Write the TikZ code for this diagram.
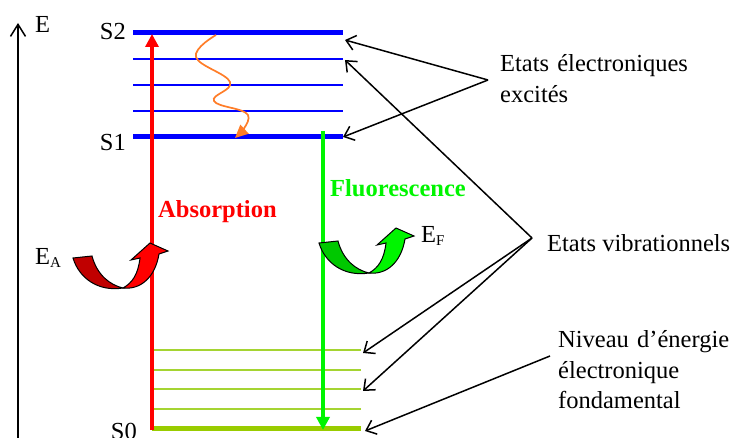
\documentclass[tikz,border=0pt]{standalone}
\usepackage{fontspec}
\setmainfont{Liberation Serif}
\usetikzlibrary{calc,arrows.meta}

\definecolor{levblue}{RGB}{0,0,255}
\definecolor{absred}{RGB}{255,0,0}
\definecolor{backred}{RGB}{192,0,0}
\definecolor{flugreen}{RGB}{0,245,0}
\definecolor{backgreen}{RGB}{0,200,0}
\definecolor{gndgreen}{RGB}{153,204,0}
\definecolor{vibgreen}{RGB}{165,212,50}
\definecolor{waveorange}{RGB}{255,125,40}

\tikzset{
  lab/.style={font=\fontsize{24.5}{30.5}\selectfont,inner sep=0pt},
  pointer/.style={line width=1.5pt,-{Straight Barb[length=9pt,width=15pt]}},
  pics/bentarrow/.style 2 args={code={
    \filldraw[#1,draw=black,line width=1pt] (0,0) .. controls (6,20) and (25,34) .. (50,30)
      .. controls (37,27) and (24,17) .. (19,-2) -- cycle;
    \filldraw[#2,draw=black,line width=1pt] (50,30) .. controls (67,32) and (82,20) .. (86,-4)
      -- (95,-7) -- (77,-15) -- (58,2) -- (67,0) .. controls (65,17) and (59,25) .. (50,30) -- cycle;
  }}
}

\begin{document}
\begin{tikzpicture}[x=1pt,y=-1pt]
  \useasboundingbox (0,0) rectangle (737,438);
  % energy axis
  \coordinate (axb) at (18,445);
  \coordinate (axt) at (18,23);
  \draw[line width=1.5pt,-{Straight Barb[length=12pt,width=15pt]}] (axb)--(axt);
  \node[lab,anchor=base west] (E) at (35,33) {E};
  % excited levels
  \draw[levblue,line width=5pt] (133,33)--(343,33);
  \foreach \y in {59,85,111}
    \draw[levblue,line width=2pt] (133,\y)--(343,\y);
  \draw[levblue,line width=5pt] (133,137)--(343,137);
  \node[lab,anchor=base east] (S2) at (126,40) {S2};
  \node[lab,anchor=base east] (S1) at (126,151) {S1};
  % ground level
  \foreach \y in {350,370,389,409}
    \draw[vibgreen,line width=2pt] (152,\y)--(361,\y);
  \draw[gndgreen,line width=5pt] (152,429)--(361,429);
  \node[lab,anchor=base east] (S0) at (137,440) {S0};
  % transitions
  \coordinate (abot) at (152,430);
  \coordinate (atop) at (152,34);
  \draw[absred,line width=4pt,-{Triangle[length=13pt,width=13pt]}] (abot)--(atop);
  \coordinate (ftop) at (323,131);
  \coordinate (fbot) at (323,430);
  \draw[flugreen,line width=3.5pt,-{Triangle[length=13pt,width=13pt]}] (ftop)--(fbot);
  \draw[waveorange,line width=1.7pt,-{Triangle[length=13pt,width=12pt]}]
    plot[smooth,tension=0.7] coordinates {(216,35) (196,57) (230,82) (214,101) (248,115) (235,138)};
  \node[lab,anchor=base west,font=\fontsize{24.5}{30}\selectfont\bfseries,text=absred] (abs) at (158,218) {Absorption};
  \node[lab,anchor=base west,font=\fontsize{24.5}{30}\selectfont\bfseries,text=flugreen] (flu) at (330,197) {Fluorescence};
  % energy arrows
  \pic at (73,258) {bentarrow={backred}{absred}};
  \pic at (319,243) {bentarrow={backgreen}{flugreen}};
  \node[lab,anchor=base west] (EA) at (35,265) {E\raisebox{-3pt}{\fontsize{15}{15}\selectfont A}};
  \node[lab,anchor=base west] (EF) at (421,243) {E\raisebox{-3pt}{\fontsize{15}{15}\selectfont F}};
  % labels
  \node[lab,anchor=base west,text width=230pt,align=left] (exc) at (500,72) {Etats électroniques\\excités};
  \node[lab,anchor=base west] (vib) at (547,252) {Etats vibrationnels};
  \node[lab,anchor=base west,text width=180pt,align=left] (niv) at (558,348) {Niveau d’énergie\\électronique\\fondamental};
  \coordinate (ts2) at (345,40);
  \coordinate (ts1) at (343,137);
  \coordinate (tv1) at (345,60);
  \coordinate (tg1) at (363,353);
  \coordinate (tg3) at (363,391);
  \coordinate (ts0) at (365,431);
  \draw[pointer] ([shift={(-12,8)}]exc.base west)--(ts2);
  \draw[pointer] ([shift={(-12,8)}]exc.base west)--(ts1);
  \draw[pointer] ([shift={(-15,-14)}]vib.base west)--(tv1);
  \draw[pointer] ([shift={(-15,-14)}]vib.base west)--(tg1);
  \draw[pointer] ([shift={(-15,-14)}]vib.base west)--(tg3);
  \draw[pointer] ([shift={(-8,8)}]niv.base west)--(ts0);
\end{tikzpicture}
\end{document}
